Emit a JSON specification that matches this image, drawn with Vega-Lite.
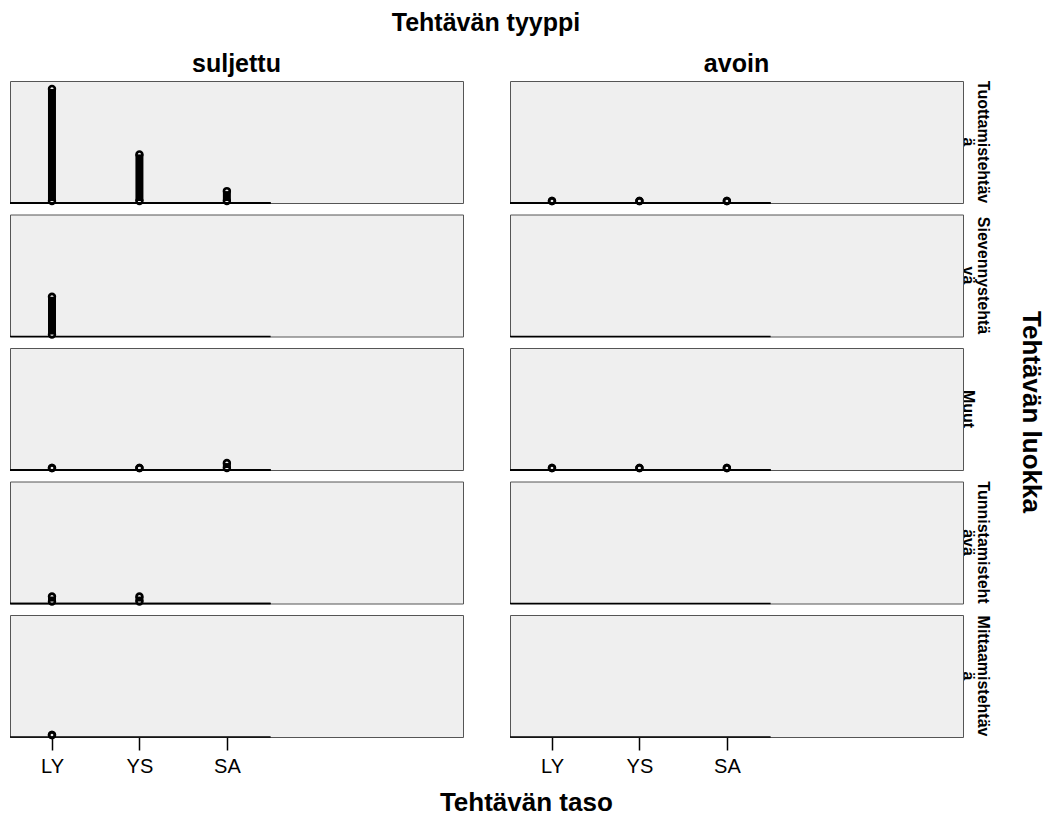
{
  "$schema": "https://vega.github.io/schema/vega-lite/v6.json",
  "padding": {"left": 8, "top": 11, "right": 0, "bottom": 0},
  "background": "white",
  "bounds": "flush",
  "config": {
    "font": "Liberation Sans",
    "view": {"fill": "#efefef", "stroke": "#555555", "strokeWidth": 1},
    "axis": {"labelColor": "black", "tickColor": "black"}
  },
  "data": {
    "values": [
      {"tyyppi": "suljettu", "luokka": "Tuottamistehtävä", "taso": "LY", "taso_nro": 1, "n": 113},
      {"tyyppi": "suljettu", "luokka": "Tuottamistehtävä", "taso": "YS", "taso_nro": 2, "n": 47},
      {"tyyppi": "suljettu", "luokka": "Tuottamistehtävä", "taso": "SA", "taso_nro": 3, "n": 10},
      {"tyyppi": "suljettu", "luokka": "Sievennystehtävä", "taso": "LY", "taso_nro": 1, "n": 38},
      {"tyyppi": "suljettu", "luokka": "Muut", "taso": "LY", "taso_nro": 1, "n": 0},
      {"tyyppi": "suljettu", "luokka": "Muut", "taso": "YS", "taso_nro": 2, "n": 0},
      {"tyyppi": "suljettu", "luokka": "Muut", "taso": "SA", "taso_nro": 3, "n": 5},
      {"tyyppi": "suljettu", "luokka": "Tunnistamistehtävä", "taso": "LY", "taso_nro": 1, "n": 5},
      {"tyyppi": "suljettu", "luokka": "Tunnistamistehtävä", "taso": "YS", "taso_nro": 2, "n": 5},
      {"tyyppi": "suljettu", "luokka": "Mittaamistehtävä", "taso": "LY", "taso_nro": 1, "n": 0},
      {"tyyppi": "avoin", "luokka": "Tuottamistehtävä", "taso": "LY", "taso_nro": 1, "n": 0},
      {"tyyppi": "avoin", "luokka": "Tuottamistehtävä", "taso": "YS", "taso_nro": 2, "n": 0},
      {"tyyppi": "avoin", "luokka": "Tuottamistehtävä", "taso": "SA", "taso_nro": 3, "n": 0},
      {"tyyppi": "avoin", "luokka": "Sievennystehtävä", "taso": "LY", "taso_nro": 1, "n": null},
      {"tyyppi": "avoin", "luokka": "Muut", "taso": "LY", "taso_nro": 1, "n": 0},
      {"tyyppi": "avoin", "luokka": "Muut", "taso": "YS", "taso_nro": 2, "n": 0},
      {"tyyppi": "avoin", "luokka": "Muut", "taso": "SA", "taso_nro": 3, "n": 0},
      {"tyyppi": "avoin", "luokka": "Tunnistamistehtävä", "taso": "LY", "taso_nro": 1, "n": null},
      {"tyyppi": "avoin", "luokka": "Mittaamistehtävä", "taso": "LY", "taso_nro": 1, "n": null}
    ]
  },
  "title": {
    "text": "Tehtävän taso",
    "orient": "bottom",
    "anchor": "middle",
    "fontSize": 26,
    "fontWeight": "bold",
    "font": "Liberation Sans",
    "color": "black",
    "offset": 14
  },
  "facet": {
    "column": {
      "field": "tyyppi",
      "type": "nominal",
      "sort": ["suljettu", "avoin"],
      "title": "Tehtävän tyyppi",
      "header": {
        "titleFontSize": 25,
        "titleFontWeight": "bold",
        "titleColor": "black",
        "titlePadding": 6,
        "labelFontSize": 25,
        "labelFontWeight": "bold",
        "labelColor": "black",
        "labelPadding": 4
      }
    },
    "row": {
      "field": "luokka",
      "type": "nominal",
      "sort": ["Tuottamistehtävä", "Sievennystehtävä", "Muut", "Tunnistamistehtävä", "Mittaamistehtävä"],
      "title": "Tehtävän luokka",
      "header": {
        "labelOrient": "right",
        "labelAngle": 90,
        "labelFontSize": 16,
        "labelFontWeight": "bold",
        "labelColor": "black",
        "labelPadding": -3,
        "labelLineHeight": 15,
        "labelExpr": "datum.value == 'Tuottamistehtävä' ? ['Tuottamistehtäv', 'ä'] : datum.value == 'Sievennystehtävä' ? ['Sievennystehtä', 'vä'] : datum.value == 'Tunnistamistehtävä' ? ['Tunnistamisteht', 'ävä'] : datum.value == 'Mittaamistehtävä' ? ['Mittaamistehtäv', 'ä'] : datum.value",
        "titleOrient": "right",
        "titleAngle": 90,
        "titleFontSize": 26,
        "titleFontWeight": "bold",
        "titleColor": "black",
        "titlePadding": 17
      }
    }
  },
  "spacing": {"column": 47, "row": 11.5},
  "spec": {
    "width": 453,
    "height": 122,
    "layer": [
      {
        "mark": {"type": "rule", "color": "black", "strokeWidth": 1.5},
        "encoding": {
          "x": {
            "datum": 0.52,
            "type": "quantitative",
            "scale": {"domain": [0.52, 5.7], "nice": false, "zero": false},
            "axis": {
              "title": null,
              "values": [1, 2, 3],
              "labelExpr": "datum.value == 1 ? 'LY' : datum.value == 2 ? 'YS' : 'SA'",
              "domain": false,
              "grid": false,
              "ticks": true,
              "tickSize": 13,
              "tickWidth": 1.5,
              "tickColor": "black",
              "labelFontSize": 20,
              "labelColor": "black",
              "labelPadding": 6,
              "labelFont": "Liberation Sans"
            }
          },
          "x2": {"datum": 3.5},
          "y": {
            "datum": -2,
            "type": "quantitative",
            "scale": {"domain": [-2, 121], "nice": false, "zero": false},
            "axis": null
          }
        }
      },
      {
        "transform": [{"filter": "datum.n != null"}],
        "mark": {"type": "rule", "color": "black", "strokeWidth": 8, "strokeCap": "butt"},
        "encoding": {
          "x": {"field": "taso_nro", "type": "quantitative"},
          "y": {"field": "n", "type": "quantitative", "axis": null},
          "y2": {"datum": 0}
        }
      },
      {
        "transform": [{"filter": "datum.n != null"}],
        "mark": {"type": "point", "shape": "circle", "filled": false, "stroke": "black", "strokeWidth": 2.6, "size": 34, "opacity": 1},
        "encoding": {
          "x": {"field": "taso_nro", "type": "quantitative"},
          "y": {"datum": 0, "type": "quantitative", "axis": null}
        }
      },
      {
        "transform": [{"filter": "datum.n != null"}],
        "mark": {"type": "point", "shape": "circle", "filled": false, "stroke": "black", "strokeWidth": 2.6, "size": 34, "opacity": 1},
        "encoding": {
          "x": {"field": "taso_nro", "type": "quantitative"},
          "y": {"field": "n", "type": "quantitative", "axis": null}
        }
      }
    ]
  }
}
